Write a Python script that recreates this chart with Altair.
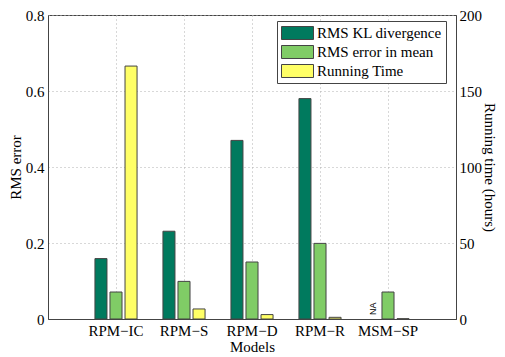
import altair as alt
import pandas as pd

models = ["RPM−IC", "RPM−S", "RPM−D", "RPM−R", "MSM−SP"]
series = ["RMS KL divergence", "RMS error in mean", "Running Time"]
kl_div = [0.159, 0.231, 0.47, 0.58, None]
mean_err = [0.071, 0.099, 0.15, 0.199, 0.071]
run_hours = [166.4, 6.6, 2.9, 1.1, 0.2]
colors = ["#007a5e", "#80cc66", "#ffff66"]

FONT = "'Liberation Serif', 'Times New Roman', serif"

err_rows = []
for m, k, e in zip(models, kl_div, mean_err):
    if k is not None:
        err_rows.append({"model": m, "series": series[0], "value": k})
    err_rows.append({"model": m, "series": series[1], "value": e})
err_df = pd.DataFrame(err_rows)
time_df = pd.DataFrame({"model": models, "series": series[2], "value": run_hours})
na_df = pd.DataFrame({"model": ["MSM−SP"], "series": [series[0]], "value": [0.0], "label": ["NA"]})

x_enc = alt.X(
    "model:N", sort=models,
    scale=alt.Scale(paddingInner=0, paddingOuter=0.5),
    axis=alt.Axis(title="Models", grid=True, bandPosition=0.5, gridDash=[1, 3],
                  gridColor="#b0b0b0", ticks=False, labelAngle=0, labelFont=FONT,
                  labelFontSize=15, labelColor="black", titleFont=FONT, titleFontSize=15,
                  titleFontWeight="normal", titleColor="black", labelPadding=4,
                  titlePadding=1, domainColor="#444"),
)
xo_enc = alt.XOffset("series:N", scale=alt.Scale(domain=series, paddingInner=0.2, paddingOuter=0.86))
color_enc = alt.Color(
    "series:N",
    scale=alt.Scale(domain=series, range=colors),
    legend=alt.Legend(title=None, orient="none", legendX=229, legendY=6,
                      strokeColor="#444", fillColor="white", padding=4,
                      labelFont=FONT, labelFontSize=15, labelColor="black",
                      symbolType="M-1,-0.406H1V0.406H-1Z", symbolSize=1024,
                      symbolStrokeColor="#444", symbolStrokeWidth=1, symbolOpacity=1,
                      labelOffset=3, clipHeight=16, rowPadding=3),
)

y_left = alt.Y(
    "value:Q", scale=alt.Scale(domain=[0, 0.8], nice=False),
    axis=alt.Axis(title="RMS error", values=[0, 0.2, 0.4, 0.6, 0.8], format="~g",
                  grid=True, gridDash=[1, 3], gridColor="#b0b0b0", tickSize=0,
                  labelFont=FONT, labelFontSize=15, labelColor="black", labelPadding=4,
                  titleFont=FONT, titleFontSize=15, titleFontWeight="normal",
                  titleColor="black", titlePadding=2, domainColor="#444"),
)
y_right = alt.Y(
    "value:Q", scale=alt.Scale(domain=[0, 200], nice=False),
    axis=alt.Axis(title="Running time (hours)", orient="right", values=[0, 50, 100, 150, 200],
                  grid=False, tickSize=0, labelFont=FONT, labelFontSize=15,
                  labelColor="black", labelPadding=3, titleFont=FONT, titleFontSize=15,
                  titleFontWeight="normal", titleColor="black", titlePadding=0,
                  domainColor="#444"),
)

bars_err = alt.Chart(err_df).mark_bar(stroke="#444", strokeWidth=1).encode(
    x=x_enc, xOffset=xo_enc, y=y_left, color=color_enc
)
na_text = alt.Chart(na_df).mark_text(
    angle=270, align="left", baseline="middle", dx=4, fontSize=9,
    font="'Liberation Sans', sans-serif", color="black"
).encode(x=x_enc, xOffset=xo_enc, y=alt.Y("value:Q"), text="label:N")

left = alt.layer(bars_err, na_text)

bars_time = alt.Chart(time_df).mark_bar(stroke="#444", strokeWidth=1).encode(
    x=x_enc, xOffset=xo_enc, y=y_right, color=color_enc
)

chart = alt.layer(left, bars_time).resolve_scale(y="independent").properties(
    width=489, height=304, padding={"top": 0, "left": 0, "right": 0, "bottom": 0},
    autosize=alt.AutoSizeParams(type="fit-x", contains="padding"),
    background="white"
).configure_view(stroke="#444", strokeWidth=1)

chart.save("out.html", embed_options={"renderer": "svg", "actions": False})
